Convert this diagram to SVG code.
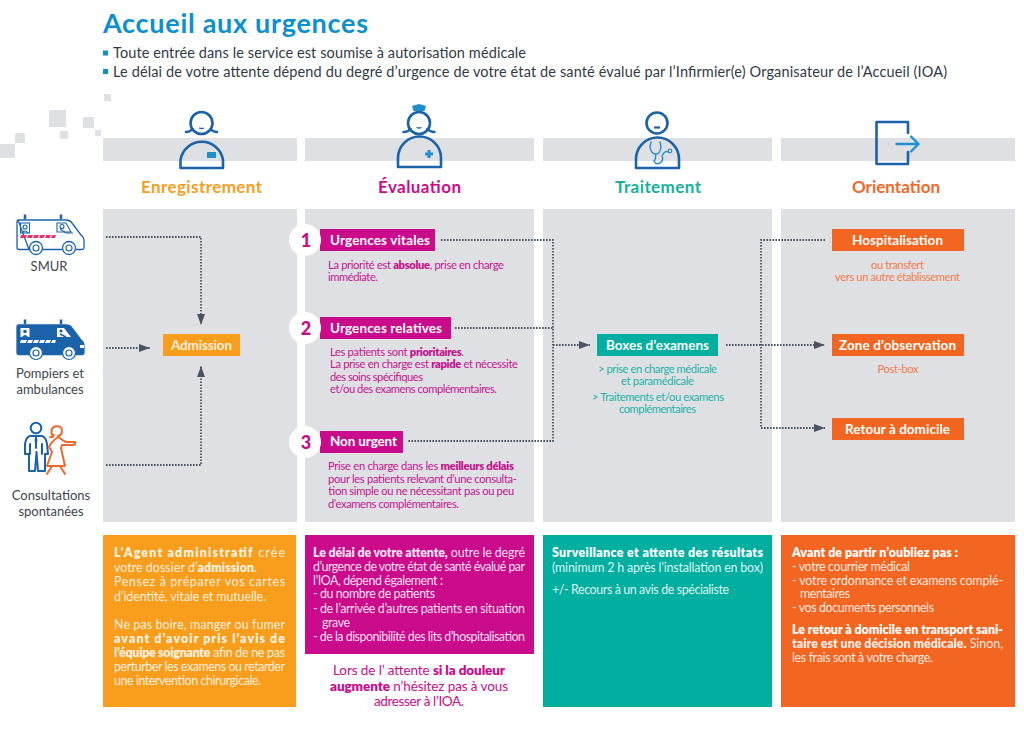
<svg xmlns="http://www.w3.org/2000/svg" width="1024" height="731" viewBox="0 0 1024 731">
<style>
text{font-family:"Lato","Liberation Sans",sans-serif}
.g{fill:#dfe0e4}
.bl{fill:none;stroke:#1a63ab;stroke-width:2.6;stroke-linecap:round;stroke-linejoin:round}
.lb{fill:none;stroke:#1e8fcf;stroke-width:1.6;stroke-linecap:round;stroke-linejoin:round}
.or{fill:none;stroke:#f1682b;stroke-width:2;stroke-linecap:round;stroke-linejoin:round}
.dot{fill:none;stroke:#4a5461;stroke-width:1.800;stroke-dasharray:1.600 1.400}
.ah{marker-end:url(#arr)}
.hd{font-size:17px;font-weight:700;text-anchor:middle}
.lab{font-size:13px;fill:#3d4651;text-anchor:middle}
.tag{font-size:13.5px;font-weight:700;fill:#fff}
.tagm{font-size:13.5px;font-weight:700;fill:#fff;text-anchor:middle}
.num{font-size:18px;font-weight:900;fill:#c90b8c;text-anchor:middle}
.s{font-size:11.200px}
.m{fill:#c4148e}.t{fill:#1ab3a5}.o{fill:#ef7c4a}
.w{font-size:12.400px;fill:#fff}
.wl{font-size:12.400px;fill:#fff;fill-opacity:.88}
.b{font-weight:800}
</style>
<defs>
<marker id="arr" markerUnits="userSpaceOnUse" markerWidth="13" markerHeight="10" refX="11" refY="4.500" orient="auto"><path d="M0 0.500L11 4.500L0 8.500Z" fill="#4a5461"/></marker>
<g id="van-shape"><path d="M18 220H66Q70 220 72 223L81 235Q84 237 84 241V248Q84 249.500 82 249.500H76M62 249.500H43M29 249.500H19Q17 249.500 17 247.500V222Q17 220 18 220Z"/></g>
</defs>

<g id="decor">
<rect class="g" x="104" y="94" width="7" height="7"/><rect class="g" x="49" y="110" width="17" height="17"/><rect class="g" x="83" y="117" width="11" height="11"/><rect class="g" x="60" y="131" width="8" height="8"/><rect class="g" x="95" y="130" width="6" height="6"/><rect class="g" x="15" y="133" width="10" height="10"/><rect class="g" x="0" y="144" width="15" height="14"/>
</g>

<g id="title">
<text x="103" y="33" font-size="27" font-weight="700" fill="#0a8fd0" textLength="265">Accueil aux urgences</text>
<rect x="103" y="50.500" width="5" height="5" fill="#0a8fd0"/>
<text x="113" y="58" font-size="14.500" fill="#2f3a46" textLength="413">Toute entrée dans le service est soumise à autorisation médicale</text>
<rect x="103" y="69" width="5" height="5" fill="#0a8fd0"/>
<text x="113" y="76.500" font-size="14.500" fill="#2f3a46" textLength="834">Le délai de votre attente dépend du degré d’urgence de votre état de santé évalué par l’Infirmier(e) Organisateur de l’Accueil (IOA)</text>
</g>

<g id="bars">
<rect class="g" x="103" y="138" width="194" height="23"/><rect class="g" x="305" y="138" width="229" height="23"/><rect class="g" x="543" y="138" width="229" height="23"/><rect class="g" x="781" y="138" width="234" height="23"/>
<rect class="g" x="103" y="209" width="194" height="313"/><rect class="g" x="305" y="209" width="229" height="313"/><rect class="g" x="543" y="209" width="229" height="313"/><rect class="g" x="781" y="209" width="234" height="313"/>
</g>

<g id="connectors">
<path class="dot ah" d="M106 237H201V325"/>
<path class="dot ah" d="M106 348H150"/>
<path class="dot ah" d="M106 465H201V366"/>
<path class="dot" d="M441 240H553V441H407M455 328H553"/>
<path class="dot ah" d="M553 345H590"/>
<path class="dot ah" d="M726 345H825"/>
<path class="dot ah" d="M825 240H761V428H825"/>
</g>

<g id="smur">
<g fill="#fff" stroke="#1a63ab" stroke-width="1.300" stroke-linejoin="round"><use href="#van-shape"/></g>
<path d="M25 214.500V219M61 214.500V219" stroke="#1a63ab" stroke-width="2.500" fill="none"/>
<g fill="none" stroke="#1a63ab" stroke-width="1.100"><rect x="20.500" y="223" width="9" height="10"/><circle cx="25" cy="227" r="2"/><path d="M22 233Q25 229 28 233"/><path d="M57 223H66L71 232H57Z"/><circle cx="62" cy="226.500" r="2"/><path d="M60 229L66 233H73"/><circle cx="36" cy="248" r="6.500" fill="#fff" stroke-width="1.300"/><circle cx="36" cy="248" r="3"/><circle cx="69" cy="248" r="6.500" fill="#fff" stroke-width="1.300"/><circle cx="69" cy="248" r="3"/></g>
<path d="M20 238L21 235H56L55 238Z" fill="#e6306f"/><path d="M26 238.500L28 234.500M32 238.500L34 234.500M38 238.500L40 234.500M44 238.500L46 234.500M50 238.500L52 234.500" stroke="#fff" stroke-width="1.200"/>
<text class="lab" x="49" y="271">SMUR</text>
</g>

<g id="pompiers">
<g transform="translate(0 105)"><g fill="#1a63ab" stroke="#1a63ab" stroke-width="1.300"><path d="M18 220H66Q70 220 72 223L81 235Q84 237 84 241V248Q84 249.500 82 249.500H19Q17 249.500 17 247.500V222Q17 220 18 220Z"/></g>
<path d="M25 214.500V219M61 214.500V219" stroke="#1a63ab" stroke-width="2.500" fill="none"/>
<rect x="20.500" y="223" width="9" height="9" fill="#fff"/><circle cx="25" cy="226.500" r="1.800" fill="#1a63ab"/><path d="M22 232Q25 228 28 232Z" fill="#1a63ab"/><path d="M57 223H64L71 232H57Z" fill="#fff"/><path d="M60 229L66 232" stroke="#1a63ab" stroke-width="1.500"/><circle cx="61" cy="226" r="1.600" fill="#1a63ab"/>
<path d="M20 238L21 235H56L55 238Z" fill="#fff"/><path d="M26 238.500L28 234.500M32 238.500L34 234.500M38 238.500L40 234.500M44 238.500L46 234.500M50 238.500L52 234.500" stroke="#1a63ab" stroke-width="1.200"/>
<path d="M80 240H84V243H80Z" fill="#fff"/>
<g fill="#fff" stroke="#1a63ab" stroke-width="1.200"><circle cx="36" cy="248" r="6.500"/><circle cx="36" cy="248" r="3"/><circle cx="69" cy="248" r="6.500"/><circle cx="69" cy="248" r="3"/></g></g>
<text class="lab" x="50" y="378">Pompiers et</text><text class="lab" x="50" y="394">ambulances</text>
</g>

<g id="consultations">
<circle class="bl" cx="36" cy="428" r="5.300" style="stroke-width:2"/>
<path class="bl" style="stroke-width:2" d="M30 436H42Q46 437 47 444L48 454H45V471H38L36.500 452L35 471H29V454H25L25 444Q26 437 30 436ZM30 444V454M42 444V454M36 436V448"/>
<path d="M36 436L34.500 440L36 448L37.500 440Z" fill="#1a63ab"/>
<path class="or" d="M53 437Q49 429 55 426.500Q62 425 62 431Q62 435 58 436M50 437Q52 438 54 435M58 437Q62 440 66 442H75Q76 445 72 445H62L61 448L65 466H47L52 452L49 447Q52 441 58 437ZM52 466L47 474M60 466L65 474"/>
<text class="lab" x="51" y="500">Consultations</text><text class="lab" x="51" y="516">spontanées</text>
</g>

<g id="enregistrement">
<circle class="bl" cx="201.500" cy="123" r="11"/>
<path class="bl" d="M186 132Q190 132 192.500 129M217 132Q213 132 210.500 129"/>
<path d="M199 128Q201.500 129 204 128" stroke="#1a63ab" stroke-width="1.300" fill="none"/>
<path class="bl" d="M180.500 168V160A21.500 21.500 0 0 1 223 160V168Z"/>
<rect x="207" y="152" width="9" height="6" fill="#1e8fcf"/>
<text class="hd" x="201.500" y="192.500" fill="#f99d1c" textLength="121">Enregistrement</text>
</g>
<g id="admission"><rect x="163" y="334" width="77" height="22" fill="#f99d1c"/><text class="tagm" x="201.500" y="350" fill-opacity=".85" textLength="61">Admission</text></g>

<g id="evaluation">
<circle class="bl" cx="419" cy="123" r="11"/>
<path class="bl" d="M403.500 132Q408 132 410.500 129M434.500 132Q430 132 427.500 129"/>
<path d="M416.500 127.500Q419 128.500 421.500 127.500" stroke="#1a63ab" stroke-width="1.300" fill="none"/>
<path d="M412 106L419 104L426 106L424.500 111H413.500Z" fill="#1e8fcf"/>
<path class="bl" d="M398 167V158A21.500 21.500 0 0 1 441 158V167Z"/>
<path d="M429 150V158M425 154H433" stroke="#1e8fcf" stroke-width="3" fill="none"/>
<text class="hd" x="419.500" y="192.500" fill="#c90b8c" textLength="83">Évaluation</text>
</g>

<g id="urgences-vitales">
<rect x="320" y="229" width="115" height="22" fill="#c90b8c"/><circle cx="305" cy="240" r="16" fill="#fff"/><text class="num" x="306" y="246.500">1</text>
<text class="tag" x="330" y="245" textLength="100">Urgences vitales</text>
<g class="s m"><text x="328" y="268.500" textLength="176">La priorité est <tspan class="b">absolue</tspan>, prise en charge</text><text x="328" y="281" textLength="50">immédiate.</text></g>
</g>
<g id="urgences-relatives">
<rect x="320" y="317" width="131" height="22" fill="#c90b8c"/><circle cx="305" cy="328" r="16" fill="#fff"/><text class="num" x="306" y="334.500">2</text>
<text class="tag" x="330" y="333" textLength="112">Urgences relatives</text>
<g class="s m"><text x="330" y="355.500" textLength="134">Les patients sont <tspan class="b">prioritaires</tspan>.</text><text x="330" y="368" textLength="188">La prise en charge est <tspan class="b">rapide</tspan> et nécessite</text><text x="330" y="380.500" textLength="93">des soins spécifiques</text><text x="330" y="393" textLength="167">et/ou des examens complémentaires.</text></g>
</g>
<g id="non-urgent">
<rect x="320" y="431" width="83" height="22" fill="#c90b8c"/><circle cx="305" cy="442" r="16" fill="#fff"/><text class="num" x="306" y="448.500">3</text>
<text class="tag" x="330" y="446" textLength="67">Non urgent</text>
<g class="s m"><text x="328" y="470" textLength="186">Prise en charge dans les <tspan class="b">meilleurs délais</tspan></text><text x="328" y="482.500" textLength="189">pour les patients relevant d’une consulta-</text><text x="328" y="495" textLength="186">tion simple ou ne nécessitant pas ou peu</text><text x="328" y="507.500" textLength="131">d’examens complémentaires.</text></g>
</g>

<g id="traitement">
<circle class="bl" cx="657" cy="123" r="10.500"/>
<path d="M654 127.500H660" stroke="#1a63ab" stroke-width="2.200"/>
<path class="bl" d="M636 168V159A21.500 21.500 0 0 1 679 159V168Z"/>
<path class="lb" style="stroke-width:1.400" d="M651 142L650 147Q651 154 656 154Q660 154 661 147L660 142M655.500 154Q656 160 654 161Q656 165 660 163Q664 160 662 156Q665 150 668 152"/>
<circle class="lb" style="stroke-width:1.200" cx="670" cy="151" r="1.800"/>
<text class="hd" x="658" y="192.500" fill="#12b29b" textLength="86">Traitement</text>
</g>
<g id="boxes">
<rect x="597" y="334" width="121" height="22" fill="#00af9f"/><text class="tagm" x="657.500" y="350" textLength="103">Boxes d’examens</text>
<g class="s t" text-anchor="middle"><text x="657.500" y="373" textLength="119">&gt; prise en charge médicale</text><text x="657.500" y="385" textLength="73">et paramédicale</text><text x="658" y="401" textLength="132">&gt; Traitements et/ou examens</text><text x="657.500" y="413" textLength="77">complémentaires</text></g>
</g>

<g id="orientation">
<path class="bl" d="M908 133V122H876.500V164H908V152"/>
<path class="lb" style="stroke-width:2.400" d="M896.500 144H918.500M911 136.500L918.500 144L911 151.500"/>
<text class="hd" x="896" y="192.500" fill="#f1682b" textLength="88">Orientation</text>
</g>
<g id="hospitalisation">
<rect x="832" y="229" width="132" height="22" fill="#f36621"/><text class="tagm" x="897.500" y="245" textLength="91">Hospitalisation</text>
<g class="s o" text-anchor="middle"><text x="897.500" y="269" textLength="53">ou transfert</text><text x="897.500" y="281" textLength="125">vers un autre établissement</text></g>
</g>
<g id="zone-observation">
<rect x="832" y="334" width="132" height="22" fill="#f36621"/><text class="tagm" x="897.500" y="350" textLength="117">Zone d’observation</text>
<text class="s o" text-anchor="middle" x="898" y="373" textLength="41">Post-box</text>
</g>
<g id="retour-domicile"><rect x="832" y="418" width="132" height="22" fill="#f36621"/><text class="tagm" x="897.500" y="433.500" textLength="105">Retour à domicile</text></g>

<g id="info-enregistrement">
<rect x="103" y="535" width="193" height="172" fill="#f99d1c"/>
<g class="wl"><text x="114" y="557" textLength="171"><tspan class="b" fill="#fff">L’Agent administratif</tspan> crée</text><text x="114" y="572" textLength="143">votre dossier d’<tspan class="b">admission</tspan>.</text><text x="114" y="586" textLength="171">Pensez à préparer vos cartes</text><text x="114" y="601" textLength="152">d’identité, vitale et mutuelle.</text>
<text x="114" y="629" textLength="171">Ne pas boire, manger ou fumer</text><text x="114" y="643" textLength="171" class="b">avant d’avoir pris l’avis de</text><text x="114" y="657" textLength="171"><tspan class="b">l’équipe soignante</tspan> afin de ne pas</text><text x="114" y="671" textLength="171">perturber les examens ou retarder</text><text x="114" y="685" textLength="147">une intervention chirurgicale.</text></g>
</g>
<g id="info-evaluation">
<rect x="305" y="535" width="229" height="119" fill="#c90b8c"/>
<g class="wl"><text x="313" y="557" textLength="212"><tspan class="b">Le délai de votre attente,</tspan> outre le degré</text><text x="313" y="571" textLength="212">d’urgence de votre état de santé évalué par</text><text x="313" y="585" textLength="130">l’IOA, dépend également :</text><text x="313" y="598" textLength="122">- du nombre de patients</text><text x="313" y="613" textLength="212">- de l’arrivée d’autres patients en situation</text><text x="322" y="627" textLength="28">grave</text><text x="313" y="641" textLength="212">- de la disponibilité des lits d’hospitalisation</text></g>
<g font-size="13.500" fill="#c90b8c" text-anchor="middle"><text x="419" y="675" textLength="172">Lors de l’ attente <tspan class="b">si la douleur</tspan></text><text x="419" y="691" textLength="178"><tspan class="b">augmente</tspan> n’hésitez pas à vous</text><text x="419" y="706" textLength="90">adresser à l’IOA.</text></g>
</g>
<g id="info-traitement">
<rect x="543" y="535" width="229" height="172" fill="#00af9f"/>
<text class="w b" x="552" y="557" textLength="211">Surveillance et attente des résultats</text>
<g class="wl"><text x="552" y="572" textLength="211">(minimum 2 h après l’installation en box)</text><text x="552" y="594" textLength="177">+/- Recours à un avis de spécialiste</text></g>
</g>
<g id="info-orientation">
<rect x="781" y="535" width="234" height="172" fill="#f36621"/>
<text class="w b" x="792" y="557" textLength="166">Avant de partir n’oubliez pas :</text>
<g class="wl"><text x="792" y="571" textLength="118">- votre courrier médical</text><text x="792" y="585" textLength="211">- votre ordonnance et examens complé-</text><text x="800" y="598" textLength="50">mentaires</text><text x="792" y="612" textLength="142">- vos documents personnels</text></g>
<text class="w b" x="792" y="634" textLength="211">Le retour à domicile en transport sani-</text>
<text class="wl" x="792" y="648" textLength="211"><tspan class="b" fill="#fff">taire est une décision médicale.</tspan> Sinon,</text>
<text class="wl" x="792" y="662" textLength="141">les frais sont à votre charge.</text>
</g>
</svg>
